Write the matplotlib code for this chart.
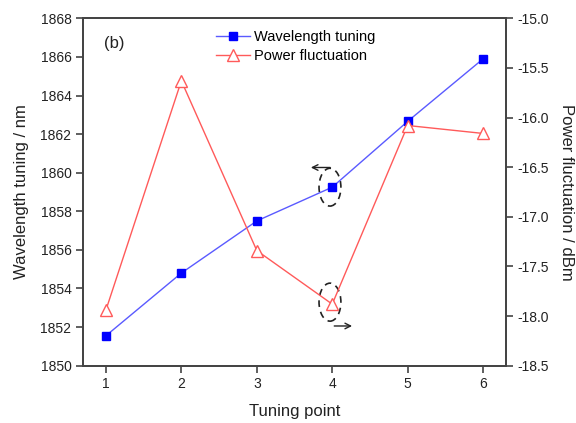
import matplotlib
matplotlib.use('Agg')
import matplotlib.pyplot as plt
from matplotlib.patches import Ellipse

plt.rcParams['font.family'] = ['Liberation Sans', 'DejaVu Sans']

# data
tuning_point = [1, 2, 3, 4, 5, 6]
wavelength = [1851.55, 1854.8, 1857.5, 1859.25, 1862.66, 1865.9]
power = [-17.94, -15.63, -17.34, -17.88, -16.08, -16.16]

xticks = [1, 2, 3, 4, 5, 6]
wl_ticks = [1850, 1852, 1854, 1856, 1858, 1860, 1862, 1864, 1866, 1868]
pw_ticks = [-18.5, -18.0, -17.5, -17.0, -16.5, -16.0, -15.5, -15.0]

axis_col = '#444444'

fig = plt.figure(figsize=(5.76, 4.23), dpi=100)
ax1 = fig.add_axes([0.1446, 0.1355, 0.7334, 0.8212])
ax2 = ax1.twinx()

l1, = ax1.plot(tuning_point, wavelength, color='#5a5aff', lw=1,
               marker='s', ms=6.2, mfc='#0000ff', mec='#0000ff',
               label='Wavelength tuning')
l2, = ax2.plot(tuning_point, power, color='#ff5a5a', lw=1,
               marker='^', ms=8, mfc='white', mec='#ff5a5a', mew=1,
               label='Power fluctuation')

ax1.set_xlim(0.7, 6.3)
ax1.set_ylim(1850, 1868)
ax2.set_ylim(-18.5, -15.0)
ax1.set_xticks(xticks)
ax1.set_yticks(wl_ticks)
ax2.set_yticks(pw_ticks)
ax2.set_yticklabels(['%.1f' % v for v in pw_ticks])

for a in (ax1, ax2):
    for s in a.spines.values():
        s.set_color(axis_col)
        s.set_linewidth(1.3)
    a.tick_params(direction='out', length=5, width=1.2, color=axis_col,
                  labelsize=10, labelcolor='#222222')

ax1.set_xlabel('Tuning point', fontsize=12, color='#222222', labelpad=9)
ax1.set_ylabel('Wavelength tuning / nm', fontsize=12, color='#222222', labelpad=8)
ax2.set_ylabel('Power fluctuation / dBm', fontsize=12, color='#222222',
               rotation=270, labelpad=18)

ax1.text(0.97, 1866.7, '(b)', fontsize=12, color='#222222', va='center')

leg = ax1.legend([l1, l2], ['Wavelength tuning', 'Power fluctuation'],
                 loc='upper left', bbox_to_anchor=(0.29, 0.995), frameon=False,
                 fontsize=10.5, handlelength=2.3, handletextpad=0.3,
                 labelspacing=0.3, borderaxespad=0.3)

# dashed ellipses with arrows pointing to the axis of each curve
ax1.add_patch(Ellipse((3.97, 1859.25), 0.29, 1.96, fill=False,
                      ls=(0, (4, 3)), lw=1.2, color='#222222'))
ax1.annotate('', xy=(3.68, 1860.27), xytext=(4.01, 1860.27),
             arrowprops=dict(arrowstyle='->', color='#222222', lw=1))
ax2.add_patch(Ellipse((3.97, -17.86), 0.29, 0.383, fill=False,
                      ls=(0, (4, 3)), lw=1.2, color='#222222'))
ax2.annotate('', xy=(4.3, -18.10), xytext=(3.99, -18.10),
             arrowprops=dict(arrowstyle='->', color='#222222', lw=1))

fig.savefig('out.png', dpi=100)
